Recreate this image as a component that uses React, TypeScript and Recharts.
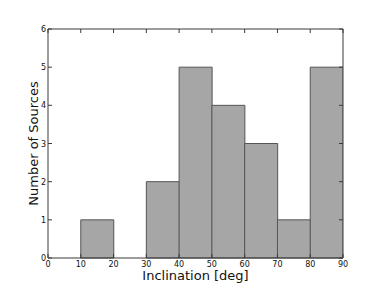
import { Bar, ComposedChart, Label, Line, XAxis, YAxis } from 'recharts';

const BIN_STARTS = [0, 10, 20, 30, 40, 50, 60, 70, 80];
const COUNTS = [0, 1, 0, 2, 5, 4, 3, 1, 5];
const X_TICKS = [0, 10, 20, 30, 40, 50, 60, 70, 80, 90];
const Y_TICKS = [0, 1, 2, 3, 4, 5, 6];

// bars sit on the bin centres of a numeric axis
const data = BIN_STARTS.map((start, i) => ({ mid: start + 5, count: COUNTS[i] }));

const FRAME = '#3a3a3a';
const FONT = '"DejaVu Sans", sans-serif';

function BottomTick({ x, y, payload }: any) {
  return (
    <g>
      <line x1={x} x2={x} y1={y} y2={y - 4} stroke={FRAME} />
      <text x={x} y={y + 9} textAnchor="middle" fontSize={8} fontFamily={FONT} fill="#111">
        {payload.value}
      </text>
    </g>
  );
}

function TopTick({ x, y }: any) {
  return <line x1={x} x2={x} y1={y} y2={y + 4} stroke={FRAME} />;
}

function LeftTick({ x, y, payload }: any) {
  return (
    <g>
      <line x1={x} x2={x + 4} y1={y} y2={y} stroke={FRAME} />
      <text x={x - 2} y={y + 3} textAnchor="end" fontSize={8} fontFamily={FONT} fill="#111">
        {payload.value}
      </text>
    </g>
  );
}

function RightTick({ x, y }: any) {
  return <line x1={x} x2={x - 4} y1={y} y2={y} stroke={FRAME} />;
}

export default function App() {
  return (
    <div style={{ position: 'absolute', left: 0, top: 0, background: '#fff' }}>
      <ComposedChart
        width={382}
        height={287}
        data={data}
        margin={{ top: 28, right: 38, bottom: 0, left: 0 }}
        barCategoryGap={0}
        barGap={0}
      >
        <XAxis
          dataKey="mid"
          type="number"
          domain={[0, 90]}
          ticks={X_TICKS}
          interval={0}
          allowDataOverflow
          height={29}
          tickSize={0}
          tickMargin={0}
          tickLine={false}
          axisLine={{ stroke: FRAME }}
          tick={<BottomTick />}
        >
          <Label
            content={({ viewBox }: any) => (
              <text
                x={viewBox.x + viewBox.width / 2}
                y={viewBox.y + 22}
                textAnchor="middle"
                fontSize={13}
                fontFamily={FONT}
                fill="#111"
              >
                Inclination [deg]
              </text>
            )}
          />
        </XAxis>
        <XAxis
          xAxisId="top"
          orientation="top"
          dataKey="mid"
          type="number"
          domain={[0, 90]}
          ticks={X_TICKS}
          interval={0}
          allowDataOverflow
          height={1}
          tickSize={0}
          tickMargin={0}
          tickLine={false}
          axisLine={{ stroke: FRAME }}
          tick={<TopTick />}
        />
        <YAxis
          domain={[0, 6]}
          ticks={Y_TICKS}
          interval={0}
          width={48}
          tickSize={0}
          tickMargin={0}
          tickLine={false}
          axisLine={{ stroke: FRAME }}
          tick={<LeftTick />}
        >
          <Label
            content={({ viewBox }: any) => {
              const cx = 38;
              const cy = viewBox.y + viewBox.height / 2;
              return (
                <text
                  x={cx}
                  y={cy}
                  transform={`rotate(-90 ${cx} ${cy})`}
                  textAnchor="middle"
                  fontSize={13}
                  fontFamily={FONT}
                  fill="#111"
                >
                  Number of Sources
                </text>
              );
            }}
          />
        </YAxis>
        <YAxis
          yAxisId="r"
          orientation="right"
          domain={[0, 6]}
          ticks={Y_TICKS}
          interval={0}
          width={1}
          tickSize={0}
          tickMargin={0}
          tickLine={false}
          axisLine={{ stroke: FRAME }}
          tick={<RightTick />}
        />
        <Bar
          dataKey="count"
          fill="#a6a6a6"
          stroke="#555"
          strokeWidth={1}
          isAnimationActive={false}
        />
        {/* invisible series so the top/right frame axes get drawn */}
        <Line
          xAxisId="top"
          yAxisId="r"
          dataKey="count"
          stroke="none"
          dot={false}
          activeDot={false}
          legendType="none"
          isAnimationActive={false}
        />
      </ComposedChart>
    </div>
  );
}
